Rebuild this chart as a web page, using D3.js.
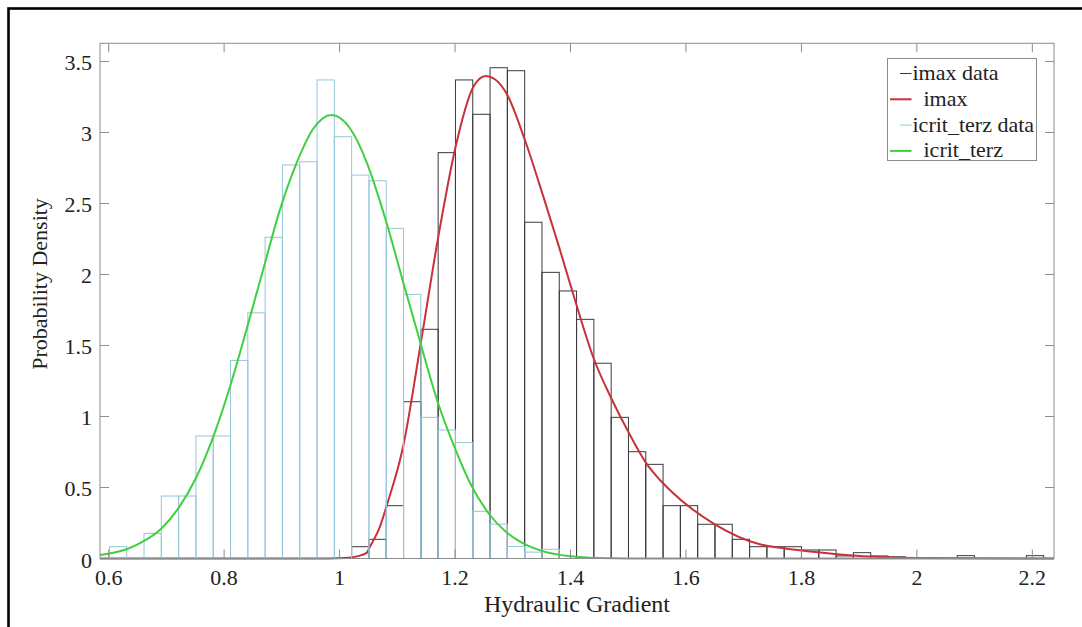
<!DOCTYPE html>
<html>
<head>
<meta charset="utf-8">
<script src="https://cdn.jsdelivr.net/npm/d3@7"></script>
<style>
  body { margin: 0; background: #fff; }
  text { font-family: "Liberation Serif", "Times New Roman", serif; fill: #222; }
</style>
</head>
<body>
<script>
// histogram bins (shared grid for both data sets)
var binStart = 0.6013;
var binWidth = 0.02997;

// icrit_terz histogram, density per bin starting at bin 0
var icritFirstBin = 0;
var icritDensity = [0.083, 0, 0.177, 0.44, 0.44, 0.863, 0.863, 1.395, 1.73, 2.262,
  2.771, 2.794, 3.37, 2.97, 2.70, 2.66, 2.325, 1.86, 0.994, 0.905,
  0.816, 0.332, 0.242, 0.085, 0.045, 0.065];

// imax histogram, density per bin starting at bin 14
var imaxFirstBin = 14;
var imaxDensity = [0.083, 0.135, 0.372, 1.104, 1.614, 2.858, 3.37, 3.128, 3.456, 3.435,
  2.368, 2.015, 1.884, 1.684, 1.375, 0.994, 0.752, 0.663, 0.372, 0.372,
  0.241, 0.241, 0.135, 0.083, 0.083, 0.083, 0.06, 0.06, 0.018, 0.041,
  0.018, 0.012, 0, 0, 0, 0.02, 0, 0, 0, 0.02];

// fitted curves
var icritFitX = [0.585, 0.631, 0.660, 0.691, 0.721, 0.751, 0.781, 0.810, 0.841, 0.871,
  0.897, 0.926, 0.955, 0.986, 1.018, 1.047, 1.070, 1.082, 1.110, 1.134,
  1.171, 1.201, 1.226, 1.260, 1.289, 1.318, 1.353, 1.399, 1.45, 1.55, 2.2375];
var icritFitY = [0.025, 0.065, 0.12, 0.21, 0.355, 0.565, 0.855, 1.208, 1.645, 2.085,
  2.46, 2.79, 3.03, 3.123, 3.03, 2.79, 2.515, 2.355, 1.948, 1.605,
  1.09, 0.765, 0.532, 0.308, 0.185, 0.106, 0.05, 0.016, 0.004, 0, 0];

var imaxFitX = [0.585, 0.98, 1.01, 1.03, 1.047, 1.0526, 1.07, 1.0816, 1.110, 1.14,
  1.171, 1.201, 1.2316, 1.253, 1.269, 1.289, 1.321, 1.353, 1.380, 1.41,
  1.44, 1.471, 1.501, 1.531, 1.555, 1.572, 1.65, 1.728, 1.763, 1.82,
  1.878, 1.936, 2.0, 2.1, 2.2375];
var imaxFitY = [0, 0, 0.003, 0.015, 0.04, 0.083, 0.224, 0.372, 0.787, 1.50,
  2.266, 2.90, 3.32, 3.398, 3.375, 3.276, 2.947, 2.548, 2.196, 1.79,
  1.41, 1.125, 0.885, 0.672, 0.553, 0.482, 0.241, 0.100, 0.075, 0.048,
  0.025, 0.01, 0.003, 0.001, 0];

// ticks and labels
var xTicks = [0.6, 0.8, 1, 1.2, 1.4, 1.6, 1.8, 2, 2.2];
var yTicks = [0, 0.5, 1, 1.5, 2, 2.5, 3, 3.5];
var legendLabels = ["imax data", "  imax", "icrit_terz data", "  icrit_terz"];
var xLabel = "Hydraulic Gradient";
var yLabel = "Probability Density";

var colors = {
  imaxBars: "#3a3a3a",
  imaxFit: "#c8323a",
  icritBars: "#94c6db",
  icritFit: "#3fd03f",
  axis: "#8c8c8c"
};

//Set up the chart
var svgWidth = 1082;
var svgHeight = 627;
var plot = { left: 100, right: 1054, top: 43.3, bottom: 558.5 };

var svg = d3.select("body")
  .append("svg")
  .attr("width", svgWidth)
  .attr("height", svgHeight);

svg.append("rect")
  .attr("width", svgWidth)
  .attr("height", svgHeight)
  .attr("fill", "#fff");

// black frame of the figure (right/bottom edges are cut off)
svg.append("rect")
  .attr("x", 8.5)
  .attr("y", 8.5)
  .attr("width", 1200)
  .attr("height", 800)
  .attr("fill", "none")
  .attr("stroke", "#000")
  .attr("stroke-width", 2.6);

var x = d3.scaleLinear().domain([0.585, 2.2375]).range([plot.left, plot.right]);
var y = d3.scaleLinear().domain([0, 3.628]).range([plot.bottom, plot.top]);

function bins(first, dens) {
  return dens.map(function(d, i) {
    var x0 = binStart + (first + i) * binWidth;
    return { x0: x0, x1: x0 + binWidth, v: d };
  }).filter(function(b) { return b.v > 0; });
}

function drawBars(data, color) {
  svg.append("g")
    .selectAll("rect")
    .data(data)
    .enter()
    .append("rect")
    .attr("x", d => x(d.x0))
    .attr("y", d => y(d.v))
    .attr("width", d => x(d.x1) - x(d.x0))
    .attr("height", d => y(0) - y(d.v))
    .attr("fill", "none")
    .attr("stroke", color)
    .attr("stroke-width", 1);
}

var line = d3.line()
  .x(d => x(d[0]))
  .y(d => y(d[1]))
  .curve(d3.curveMonotoneX);

function drawFit(xs, ys, color) {
  svg.append("path")
    .datum(d3.zip(xs, ys))
    .attr("d", line)
    .attr("fill", "none")
    .attr("stroke", color)
    .attr("stroke-width", 2);
}

// same order as the legend
drawBars(bins(imaxFirstBin, imaxDensity), colors.imaxBars);
drawFit(imaxFitX, imaxFitY, colors.imaxFit);
drawBars(bins(icritFirstBin, icritDensity), colors.icritBars);
drawFit(icritFitX, icritFitY, colors.icritFit);

// axes box with inward ticks on all sides
var tickLen = 9;
var axes = svg.append("g").attr("stroke", colors.axis).attr("stroke-width", 1);

axes.append("rect")
  .attr("x", plot.left)
  .attr("y", plot.top)
  .attr("width", plot.right - plot.left)
  .attr("height", plot.bottom - plot.top)
  .attr("fill", "none");

xTicks.forEach(function(t) {
  axes.append("line").attr("x1", x(t)).attr("x2", x(t))
    .attr("y1", plot.bottom).attr("y2", plot.bottom - tickLen);
  axes.append("line").attr("x1", x(t)).attr("x2", x(t))
    .attr("y1", plot.top).attr("y2", plot.top + tickLen);
});
yTicks.forEach(function(t) {
  axes.append("line").attr("x1", plot.left).attr("x2", plot.left + tickLen)
    .attr("y1", y(t)).attr("y2", y(t));
  axes.append("line").attr("x1", plot.right).attr("x2", plot.right - tickLen)
    .attr("y1", y(t)).attr("y2", y(t));
});

var fmt = d3.format("~g");

svg.append("g")
  .selectAll("text")
  .data(xTicks)
  .enter()
  .append("text")
  .attr("x", d => x(d))
  .attr("y", plot.bottom + 26.5)
  .attr("text-anchor", "middle")
  .style("font-size", "22px")
  .text(d => fmt(d));

svg.append("g")
  .selectAll("text")
  .data(yTicks)
  .enter()
  .append("text")
  .attr("x", plot.left - 8)
  .attr("y", d => y(d) + 9)
  .attr("text-anchor", "end")
  .style("font-size", "22px")
  .text(d => fmt(d));

//axis labels
svg.append("text")
  .attr("x", (plot.left + plot.right) / 2)
  .attr("y", 612)
  .attr("text-anchor", "middle")
  .style("font-size", "24px")
  .text(xLabel);

svg.append("text")
  .attr("transform", "translate(46.5, 284) rotate(-90)")
  .attr("text-anchor", "middle")
  .style("font-size", "22px")
  .text(yLabel);

// legend
var legend = svg.append("g");
legend.append("rect")
  .attr("x", 887.5)
  .attr("y", 58.5)
  .attr("width", 149)
  .attr("height", 102)
  .attr("fill", "#fff")
  .attr("stroke", colors.axis);

var legendColors = [colors.imaxBars, colors.imaxFit, colors.icritBars, colors.icritFit];
var legendLineStart = [900, 890, 900, 890];

legendLabels.forEach(function(label, i) {
  var base = 80 + i * 25.8;
  legend.append("line")
    .attr("x1", legendLineStart[i])
    .attr("x2", 911.5)
    .attr("y1", base - 6.5)
    .attr("y2", base - 6.5)
    .attr("stroke", legendColors[i])
    .attr("stroke-width", i % 2 ? 2 : 1);
  legend.append("text")
    .attr("x", 912.5)
    .attr("y", base)
    .style("font-size", "22px")
    .style("white-space", "pre")
    .text(label);
});
</script>
</body>
</html>
